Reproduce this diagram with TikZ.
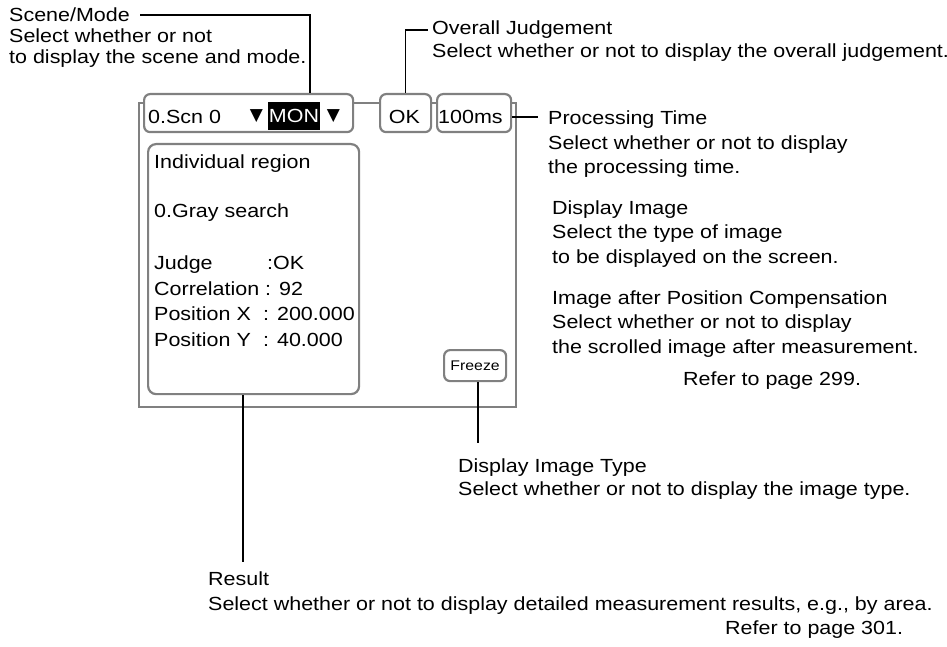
\documentclass[tikz,border=0pt]{standalone}
\usepackage{fontspec}
\setmainfont[FakeStretch=1.13]{Liberation Sans}
\newfontfamily\symfont{DejaVu Sans}
\definecolor{scrgray}{RGB}{128,128,128}
\begin{document}
\begin{tikzpicture}[x=1pt,y=-1pt,
  lab/.style={anchor=base west, inner sep=0pt, align=left},
  scr/.style={anchor=base west, inner sep=0pt, font=\fontsize{19}{24}\selectfont},
  gbox/.style={draw=scrgray, fill=white, line width=2.2pt, rounded corners=6pt, inner sep=0pt, anchor=north west},
  frame/.style={draw=scrgray, line width=2pt, inner sep=0pt, anchor=north west},
  leader/.style={draw=black, line width=1.2pt},
  tri/.style={inner sep=0pt, font=\symfont\fontsize{17}{17}\selectfont}
]
\useasboundingbox (0,0) rectangle (947,647);

% screen
\node[frame, minimum width=377pt, minimum height=304pt] (screen) at (138,102) {};
\node[gbox, minimum width=209pt, minimum height=38pt] (scn) at (143,93) {};
\node[gbox, minimum width=51pt, minimum height=38pt] (ok) at (379,93) {};
\node[gbox, minimum width=74pt, minimum height=38pt] (ms) at (436,93) {};
\node[gbox, rounded corners=8pt, minimum width=211pt, minimum height=250pt] (indiv) at (147,143) {};
\node[gbox, minimum width=62pt, minimum height=31pt, anchor=north west, font=\fontsize{14}{16}\selectfont] (freeze) at (443,349) {Freeze};

% screen texts
\node[scr] (scntxt) at (148,123.5) {0.Scn 0};
\node[tri] (tri1) at (256.5,116) {▼};
\node[fill=black, text=white, inner sep=0pt, minimum width=52pt, minimum height=28pt, font=\fontsize{19}{24}\selectfont] (mon) at (294,116) {MON};
\node[tri] (tri2) at (333.5,116) {▼};
\node[scr, anchor=base] (oktxt) at (404.5,123.5) {OK};
\node[scr] (mstxt) at (438,123.5) {100ms};

\node[scr] (r1) at (154,168) {Individual region};
\node[scr] (r2) at (154,218) {0.Gray search};
\node[scr] (r3) at (154,269.5) {\makebox[113pt][l]{Judge}:OK};
\node[scr] (r4) at (154,295) {Correlation : 92};
\node[scr] (r5) at (154,320.5) {\makebox[109pt][l]{Position X}: 200.000};
\node[scr] (r6) at (154,346) {\makebox[109pt][l]{Position Y}: 40.000};

% labels (anchor = baseline of the last line)
\node[lab, font=\fontsize{19}{21}\selectfont] (sm) at (9,64) {Scene/Mode\\Select whether or not\\to display the scene and mode.};
\node[lab, font=\fontsize{19}{23}\selectfont] (oj) at (432,58) {Overall Judgement\\Select whether or not to display the overall judgement.};
\node[lab, font=\fontsize{19}{24.5}\selectfont] (pt) at (548,174) {Processing Time\\Select whether or not to display\\the processing time.};
\node[lab, font=\fontsize{19}{24.5}\selectfont] (di) at (552,263) {Display Image\\Select the type of image\\to be displayed on the screen.};
\node[lab, font=\fontsize{19}{24.5}\selectfont] (ia) at (552,353) {Image after Position Compensation\\Select whether or not to display\\the scrolled image after measurement.};
\node[lab, font=\fontsize{19}{24}\selectfont] (r299) at (683,385) {Refer to page 299.};
\node[lab, font=\fontsize{19}{23}\selectfont] (dit) at (458,495) {Display Image Type\\Select whether or not to display the image type.};
\node[lab, font=\fontsize{19}{25}\selectfont] (res) at (208,610) {Result\\Select whether or not to display detailed measurement results, e.g., by area.};
\node[lab, font=\fontsize{19}{24}\selectfont] (r301) at (725,634) {Refer to page 301.};

% leaders
\coordinate (smEnd) at (140,15);
\coordinate (smKnee) at (310,15);
\draw[leader] (smEnd) -- (smKnee) -- (smKnee |- scn.north);
\coordinate (ojEnd) at (428,30);
\draw[leader] (ok.north) |- (ojEnd);
\coordinate (ptEnd) at (538,117);
\draw[leader] (ptEnd -| ms.east) -- (ptEnd);
\coordinate (fzEnd) at (478,443);
\draw[leader] (fzEnd |- freeze.south) -- (fzEnd);
\coordinate (resEnd) at (243,562);
\draw[leader] (resEnd |- indiv.south) -- (resEnd);
\end{tikzpicture}
\end{document}
